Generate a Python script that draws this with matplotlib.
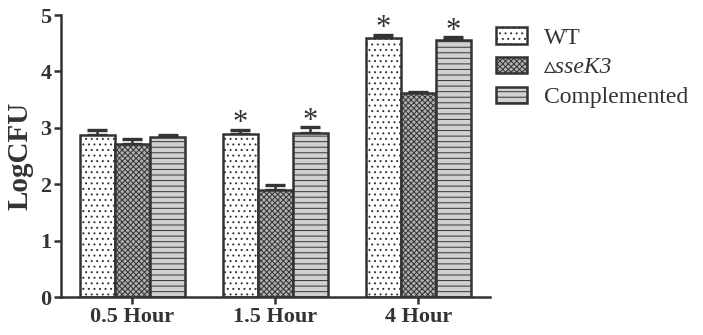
import numpy as np
from matplotlib import pyplot as plt

plt.rcParams['font.family'] = ['Liberation Serif', 'DejaVu Sans']
plt.rcParams['hatch.linewidth'] = 0.7

# data
groups = ["0.5 Hour", "1.5 Hour", "4 Hour"]
labels = ["WT", "\u25b5sseK3", "Complemented"]
wt = [2.87, 2.89, 4.60]
wt_err = [0.10, 0.08, 0.05]
ko = [2.71, 1.90, 3.61]
ko_err = [0.10, 0.09, 0.02]
comp = [2.84, 2.91, 4.56]
comp_err = [0.04, 0.10, 0.05]
# which bars get a star (WT and Complemented at 1.5 h and 4 h)
stars = [[False, True, True], [False, False, False], [False, True, True]]

series = [wt, ko, comp]
errs = [wt_err, ko_err, comp_err]
faces = ["white", "#b0b0b0", "#d0d0d0"]
hatches = ["...", "xxxxxx", "---"]
edge = "#333333"

fig = plt.figure(figsize=(7.03, 3.35), dpi=100)
ax = fig.add_axes([0.0868, 0.1134, 0.61, 0.8416])

x = np.arange(len(groups))
w = 0.245
for i in range(3):
    pos = x + (i - 1) * w
    ax.bar(pos, series[i], w, color=faces[i], edgecolor=edge, linewidth=1.8,
           hatch=hatches[i], label=labels[i], zorder=2)
    ax.errorbar(pos, series[i], yerr=[np.zeros(3), errs[i]], fmt='none',
                ecolor=edge, elinewidth=1.8, capsize=7, capthick=2.4, zorder=1)
    for j in range(3):
        if stars[i][j]:
            ax.text(pos[j], series[i][j] + errs[i][j] - 0.15, "*", ha='center',
                    va='bottom', fontsize=22, color=edge)

ax.set_xlim(-0.5, 2.5)
ax.set_ylim(0, 5)
ax.set_xticks(x)
ax.set_xticklabels(groups, fontsize=16, fontweight='bold', color=edge)
ax.set_yticks(range(6))
ax.set_yticklabels([str(v) for v in range(6)], fontsize=16, fontweight='bold', color=edge)
ax.set_ylabel("LogCFU", fontsize=21, fontweight='bold', color=edge, labelpad=5)
for s in ['top', 'right']:
    ax.spines[s].set_visible(False)
for s in ['left', 'bottom']:
    ax.spines[s].set_linewidth(1.8)
    ax.spines[s].set_color(edge)
ax.tick_params(width=1.8, length=5, color=edge, pad=2)

leg = ax.legend(loc='upper left', bbox_to_anchor=(496 / 703, 1 - 27 / 335),
                bbox_transform=fig.transFigure, frameon=False, fontsize=17,
                handlelength=1.3, handleheight=0.7, handletextpad=0.75,
                labelspacing=0.35, borderpad=0, borderaxespad=0)
for t in leg.get_texts():
    t.set_color(edge)
leg.get_texts()[1].set_fontstyle('italic')

plt.savefig("out.png", dpi=100)
